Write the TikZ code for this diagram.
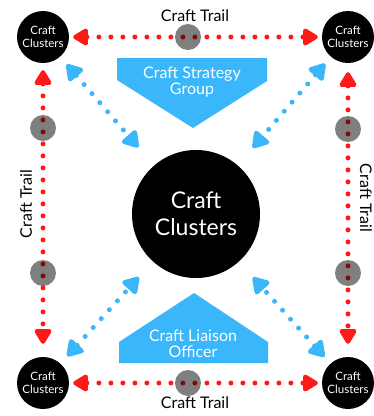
\documentclass[tikz,border=0pt]{standalone}
\usepackage{fontspec}
\setmainfont{Lato}
\usetikzlibrary{arrows.meta}
\definecolor{trailred}{RGB}{255,26,26}
\definecolor{groupblue}{RGB}{58,182,250}
\begin{document}
\begin{tikzpicture}[x=1pt,y=-1pt,
  cluster/.style={circle,fill=black,text=white,inner sep=0pt,minimum size=52pt,
    align=center,font=\fontsize{11.5}{12.5}\selectfont},
  hub/.style={circle,fill=black,text=white,inner sep=0pt,minimum size=128pt,
    align=center,font=\fontsize{23}{27}\selectfont},
  waypoint/.style={circle,fill=black,fill opacity=0.5,inner sep=0pt,minimum size=26pt},
  trail/.style={trailred,line width=5pt,line cap=round,dash pattern=on 0pt off 12pt,
    {Triangle[length=17pt,width=19pt,round]}-{Triangle[length=17pt,width=19pt,round]}},
  link/.style={groupblue,line width=5pt,line cap=round,dash pattern=on 0pt off 12pt,
    {Triangle[length=18pt,width=21pt,round]}-{Triangle[length=18pt,width=21pt,round]}},
  banner/.style={fill=groupblue},
  bannertext/.style={text=white,align=center,font=\fontsize{16}{16}\selectfont},
  traillabel/.style={font=\fontsize{16}{18}\selectfont}]
\useasboundingbox (0,0) rectangle (374,416);

% clusters
\node[cluster] (TL) at (43,37) {Craft\\Clusters};
\node[cluster] (TR) at (348,37) {Craft\\Clusters};
\node[cluster] (BL) at (43,383) {Craft\\Clusters};
\node[cluster] (BR) at (348,383) {Craft\\Clusters};
\node[hub] (C) at (196,214) {Craft\\Clusters};

% group banners
\fill[banner] (117,58) -- (267,58) -- (267,81) -- (193,128) -- (117,80) -- cycle;
\node[bannertext] (SG) at (192,82) {Craft Strategy\\Group};
\fill[banner] (194,293) -- (268,342) -- (268,363) -- (119,363) -- (119,342) -- cycle;
\node[bannertext] (LO) at (193,344) {Craft Liaison\\Officer};

% craft trails between the clusters
\draw[trail,shorten <=4pt,shorten >=4pt] (TL) -- (TR);
\draw[trail,shorten <=4pt,shorten >=4pt] (BL) -- (BR);
\draw[trail,shorten <=7pt,shorten >=13pt] (TL) -- (BL);
\draw[trail,shorten <=9pt,shorten >=13pt] (TR) -- (BR);

% links to the central cluster
\draw[link,shorten <=10pt,shorten >=24pt] (TL) -- (C);
\draw[link,shorten <=9pt,shorten >=23pt] (TR) -- (C);
\draw[link,shorten <=10pt,shorten >=21pt] (BL) -- (C);
\draw[link,shorten <=9pt,shorten >=21pt] (BR) -- (C);

% waypoints on the trails
\node[waypoint] (wT) at (188,37) {};
\node[waypoint] (wB) at (188,383) {};
\node[waypoint] (wL1) at (43,128) {};
\node[waypoint] (wL2) at (43,273) {};
\node[waypoint] (wR1) at (348,129) {};
\node[waypoint] (wR2) at (348,273) {};

% trail labels
\node[traillabel] (lT) at (195,16) {Craft Trail};
\node[traillabel] (lB) at (195,403) {Craft Trail};
\node[traillabel,rotate=90] (lL) at (26,204) {Craft Trail};
\node[traillabel,rotate=-90] (lR) at (366,198) {Craft Trail};
\end{tikzpicture}
\end{document}
